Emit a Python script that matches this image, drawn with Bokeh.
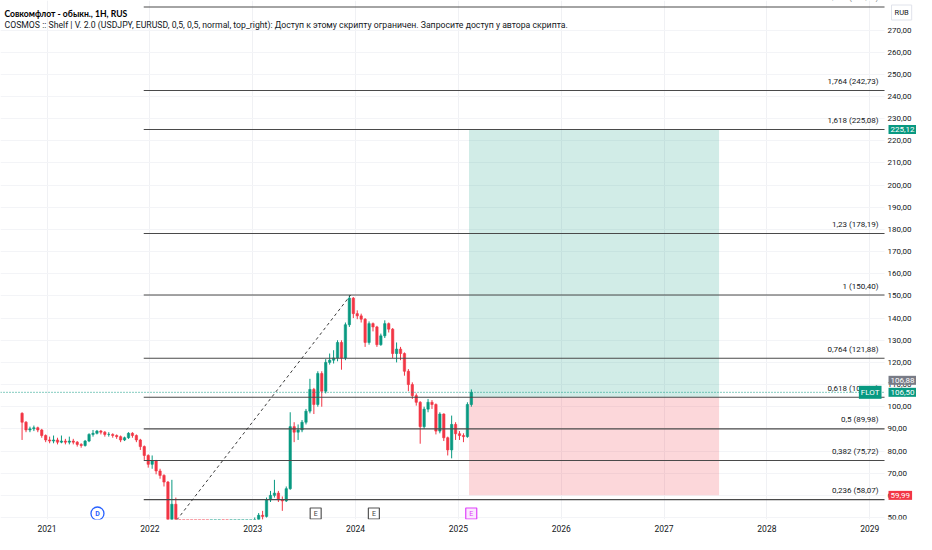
import pandas as pd
from bokeh.plotting import figure
from bokeh.models import FixedTicker, CustomJSTickFormatter, Label
from bokeh.embed import file_html
from bokeh.resources import INLINE
from bokeh.core.properties import value

# ---------------- data ----------------
TITLE = "Совкомфлот - обыкн., 1H, RUS"
SUBTITLE = ("COSMOS :: Shelf | V. 2.0 (USDJPY, EURUSD, 0,5, 0,5, normal, top_right): "
            "Доступ к этому скрипту ограничен. Запросите доступ у автора скрипта.")

candle_start = "2020-10-04"
candle_step = "14D"
first_open = 97.0
candle_close = [
    93, 89.5, 90, 90.5, 89.5, 87, 85, 84.5, 85, 84,
    84.5, 84, 84.5, 84, 83, 82.5, 84.5, 87.5, 88, 89,
    88.5, 87.5, 87.5, 87, 86.5, 85, 86, 88, 87, 85,
    82, 78, 74, 75.5, 71, 69, 66, 45, 56, 48,
    42, 40, 38, 36, 35, 33, 32, 31, 32, 33,
    34, 33, 32, 34, 35, 36, 38, 40, 44, 49,
    51, 50.5, 58, 60, 61, 58, 57.5, 63, 91, 88.5,
    89.5, 93, 98, 107.8, 101, 115, 107, 120, 121, 122,
    129, 122, 137, 149, 142, 141, 139.5, 129, 137.5, 136,
    128, 132, 137.5, 135, 124, 126, 124, 116, 110, 105,
    102, 91, 98.9, 102, 101, 89, 96.7, 86, 80.5, 92,
    87.8, 87, 86.5, 101, 106.5,
]
candle_high = [
    97.5, 93.5, 91, 91.5, 91, 90, 87.5, 86.5, 87, 86,
    87, 85.5, 86.5, 85.5, 84.5, 83.5, 85, 88, 89.5, 89.5,
    89.5, 89, 88.5, 88, 87.5, 87, 86.5, 88.5, 88.5, 87.5,
    85.5, 82.5, 78.5, 78, 76, 72, 69.5, 66.5, 67, 59,
    49, 43, 41, 39, 37, 36, 34, 33, 33, 34,
    35, 35, 34, 35, 36, 37, 39, 41, 45, 50,
    52, 53, 59, 62, 67, 62, 59.5, 64, 97.5, 93,
    92, 94, 99, 112.6, 108.5, 116, 116, 121.5, 124, 125.5,
    130, 130, 138, 150.4, 149.5, 143.5, 142, 140, 138.5, 138,
    136.5, 133, 139, 138, 135.5, 129, 127, 124.5, 117, 111,
    106, 102.5, 100, 103.5, 103, 101.5, 97.5, 97, 86.5, 96,
    93, 89, 88, 102, 107.8,
]
candle_low = [
    85, 88.5, 88.5, 89, 88.5, 86, 84, 83.5, 83.5, 83,
    83.5, 83, 83, 83, 82, 81.5, 82, 84, 86.5, 87.5,
    87.5, 86.5, 86.5, 86, 85.5, 84, 84.5, 85.5, 86, 84,
    80.5, 76, 72.5, 72, 69.5, 67.5, 64, 42, 44, 46.5,
    40, 38.5, 36.5, 34.5, 33.5, 31.5, 30.5, 29.6, 30, 31,
    32, 32, 31, 31, 33, 34, 35, 37, 39, 43,
    48, 49, 50, 57, 59, 57, 53, 57, 62.5, 84,
    85, 88.5, 92, 97, 96.7, 100, 100, 106, 119, 119.5,
    120.5, 116.7, 121, 136, 140, 139.5, 138, 127, 128, 134,
    127, 127.5, 131, 133.5, 122, 120, 121, 114, 107, 103.5,
    100.5, 83.3, 90, 97.5, 99, 87.5, 88, 84.5, 78, 76.7,
    85, 85, 84, 86, 100,
]

fib_prices = [58.07, 75.72, 89.98, 104.24, 121.88, 150.40, 178.19, 225.08, 242.73, 280.42]
fib_labels = ["0,236 (58,07)", "0,382 (75,72)", "0,5 (89,98)", "0,618 (104,24)",
              "0,764 (121,88)", "1 (150,40)", "1,23 (178,19)", "1,618 (225,08)",
              "1,764 (242,73)", "2,076 (280,42)"]
fib_anchor_t = [2021.94, 2023.952]
fib_anchor_p = [29.56, 150.40]

position_t = [2025.103, 2027.535]
position_entry = 104.22
position_target = 225.12
position_stop = 59.99

last_price = 106.50
prev_price = 106.88
ticker = "FLOT"
currency = "RUB"

year_ticks = [2021, 2022, 2023, 2024, 2025, 2026, 2027, 2028, 2029]
price_ticks = list(range(50, 280, 10))

earnings_t = [2023.612, 2024.178, 2025.125]
dividend_t = [2021.49]

# ---------------- styles ----------------
GREEN = "#089981"
RED = "#f23645"
INK = "#131722"
FONT = "Roboto"
W, H = 916, 534
X0, X_SCALE, X_END = 2020.547, 2029.144, 2029.455   # chart left, price-scale edge, canvas right
Y0, Y1 = 49.1, 283.33
FRAME_H = H - 15
PX_PER_P = FRAME_H / (Y1 - Y0)


def fmt(v):
    return f"{v:.2f}".replace(".", ",")


dates = pd.date_range(candle_start, periods=len(candle_close), freq=candle_step)
t = (dates.year + (dates.dayofyear - 1) / (365 + dates.is_leap_year.astype(int))).to_numpy()
opens = [first_open] + candle_close[:-1]
colors = [GREEN if c >= o else RED for o, c in zip(opens, candle_close)]
tops = [max(o, c) for o, c in zip(opens, candle_close)]
bots = [min(o, c) for o, c in zip(opens, candle_close)]
bar_w = 8.4 / 365.25

p = figure(width=W, height=H, x_range=(X0, X_END), y_range=(Y0, Y1),
           y_axis_location="right", output_backend="svg", toolbar_location=None,
           min_border_left=0, min_border_top=0, min_border_right=0, min_border_bottom=15)
p.outline_line_color = None
p.background_fill_color = "white"
p.border_fill_color = "white"

# axes
p.xaxis.ticker = FixedTicker(ticks=year_ticks)
p.xaxis.formatter = CustomJSTickFormatter(code="return String(Math.round(tick));")
p.yaxis.ticker = FixedTicker(ticks=price_ticks)
p.yaxis.formatter = CustomJSTickFormatter(code="return tick.toFixed(2).replace('.', ',');")
p.yaxis.fixed_location = X_SCALE
for ax in (p.xaxis[0], p.yaxis[0]):
    ax.axis_line_color = None
    ax.major_tick_line_color = None
    ax.minor_tick_line_color = None
    ax.major_tick_out = 0
    ax.major_tick_in = 0
    ax.minor_tick_out = 0
    ax.minor_tick_in = 0
    ax.major_label_text_font = FONT
    ax.major_label_text_color = INK
p.xaxis.major_label_text_font_size = "8.5px"
p.yaxis.major_label_text_font_size = "8px"
p.xaxis.major_label_standoff = 5
p.yaxis.major_label_standoff = 3
p.xgrid.grid_line_color = "#f0f1f4"
p.ygrid.grid_line_color = "#f3f4f7"
p.xgrid.ticker = FixedTicker(ticks=year_ticks)
p.ygrid.ticker = FixedTicker(ticks=price_ticks)

# price-scale background (hides grid lines behind the scale)
p.quad(left=[X_SCALE], right=[X_END + 1], bottom=[Y0 - 50], top=[Y1 + 50],
       fill_color="white", line_color=None)

# long position zones
p.quad(left=[position_t[0]], right=[position_t[1]], bottom=[position_entry], top=[position_target],
       fill_color=GREEN, fill_alpha=0.19, line_color=None)
p.quad(left=[position_t[0]], right=[position_t[1]], bottom=[position_stop], top=[position_entry],
       fill_color=RED, fill_alpha=0.2, line_color=None)

# candles
p.segment(x0=t, x1=t, y0=candle_low, y1=candle_high, line_color=colors, line_width=1)
p.vbar(x=t, width=bar_w, top=tops, bottom=bots, fill_color=colors, line_color=colors, line_width=0.6)

# fib levels
n = len(fib_prices)
p.segment(x0=[fib_anchor_t[0]] * n, x1=[X_SCALE] * n, y0=fib_prices, y1=fib_prices,
          line_color="#4a4a4a", line_width=1.1)
p.line(x=fib_anchor_t, y=fib_anchor_p, line_color="#3a3a3a", line_width=1, line_dash="3 3")
p.text(x=[X_SCALE] * n, y=fib_prices, text=fib_labels, x_offset=-6, y_offset=-9,
       text_align="right", text_baseline="middle", text_font=value(FONT),
       text_font_size="8px", text_color=INK)

# current price dotted line
p.segment(x0=[X0], x1=[X_SCALE], y0=[last_price], y1=[last_price], line_color=GREEN,
          line_width=1, line_dash="1 2")

# event markers
mk_y = Y0 + 6 / PX_PER_P
p.scatter(x=earnings_t[:2], y=[mk_y] * 2, marker="square", size=11, fill_color="white",
          line_color="#555555", line_width=1.2)
p.scatter(x=earnings_t[2:], y=[mk_y], marker="square", size=11, fill_color="#fbe9fd",
          line_color="#e040fb", line_width=1.2)
p.text(x=earnings_t, y=[mk_y] * 3, text=["E"] * 3, text_align="center", text_baseline="middle",
       text_font=value(FONT), text_font_size="7px", text_color=["#444444", "#444444", "#e040fb"])
p.scatter(x=dividend_t, y=[mk_y], marker="circle", size=13, fill_color="white",
          line_color="#2962ff", line_width=1.3)
p.text(x=dividend_t, y=[mk_y], text=["D"], text_align="center", text_baseline="middle",
       text_font=value(FONT), text_font_size="7px", text_color="#2962ff", text_font_style="bold")

# titles
p.add_layout(Label(x=X0, y=Y1, x_offset=4, y_offset=-13, text=TITLE, text_font="Lato",
                   text_font_size="8.6px", text_font_style="bold", text_color="#000000",
                   text_baseline="middle", text_align="left"))
p.add_layout(Label(x=X0, y=Y1, x_offset=4, y_offset=-24, text=SUBTITLE, text_font=FONT,
                   text_font_size="8.7px", text_color=INK, text_baseline="middle",
                   text_align="left"))


# price-scale tags
def tag(y, text, bg, dy=0, align="left", dx=4):
    p.add_layout(Label(x=X_SCALE, y=y, x_offset=dx, y_offset=dy, text=text, text_font=FONT,
                       text_font_size="8px", text_color="white", background_fill_color=bg,
                       text_baseline="middle", text_align=align, padding=2))


tag(position_target, fmt(position_target), GREEN)
tag(last_price, fmt(prev_price), "#787b86", dy=12)
tag(last_price, fmt(last_price), GREEN)
tag(last_price, ticker, GREEN, align="right", dx=-3)
tag(position_stop, fmt(position_stop), RED)
p.add_layout(Label(x=X_SCALE, y=Y1, x_offset=7, y_offset=-12, text=currency, text_font=FONT,
                   text_font_size="7.5px", text_color=INK, text_baseline="middle",
                   background_fill_color="white", border_line_color="#e0e3eb", padding=3))

open("out.html", "w").write(file_html(p, INLINE))
